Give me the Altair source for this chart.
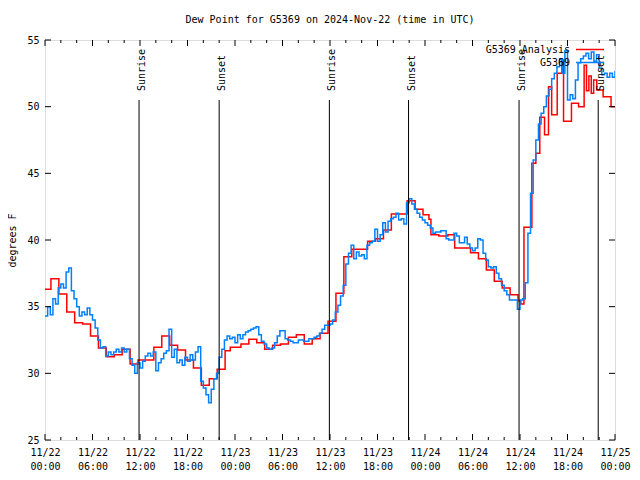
import altair as alt
import pandas as pd

TITLE = "Dew Point for G5369 on 2024-Nov-22 (time in UTC)"
Y_TITLE = "degrees F"
OBS_NAME = "G5369"
ANAL_NAME = "G5369 Analysis"

# Observations (G5369), every 20 minutes from 2024-11-22 00:00 UTC
obs_values = [
    34.3, 35.0, 34.4,  35.6, 35.2, 36.4,  36.7, 36.4, 37.6,  37.9, 36.2, 35.6,
    35.0, 34.3, 34.6,  34.4, 34.9, 34.4,  34.0, 33.4, 32.5,  31.9, 32.0, 31.3,
    31.6, 31.4, 31.6,  31.8, 31.6, 31.9,  31.6, 31.8, 31.1,  30.6, 30.0, 30.8,
    30.4, 30.9, 31.3,  31.5, 31.3, 31.6,  30.2, 30.8, 31.1,  31.5, 31.7, 33.3,
    31.2, 31.8, 30.8,  31.0, 30.6, 31.2,  30.9, 31.4, 31.0,  31.6, 32.0, 29.4,
    28.9, 28.4, 27.8,  28.8, 29.6, 30.0,  31.2, 31.8, 32.5,  32.8, 32.6, 32.7,
    32.3, 32.9, 32.6,  32.9, 33.1, 33.2,  33.3, 33.4, 33.5,  32.9, 32.4, 32.2,
    31.9, 31.8, 31.9,  32.3, 32.8, 33.2,  33.2, 32.6, 32.5,  32.4, 32.3, 32.3,
    32.5, 32.5, 32.4,  32.4, 32.6, 32.6,  32.7, 32.8, 33.0,  33.3, 33.6, 33.6,
    33.7, 34.0, 34.6,  35.1, 35.8, 36.6,  38.2, 39.0, 39.6,  38.6, 39.1, 38.8,
    38.9, 38.6, 39.6,  39.8, 39.9, 40.8,  39.9, 40.4, 41.3,  40.6, 41.4, 41.6,
    41.7, 42.0, 41.5,  41.6, 41.2, 42.8,  43.1, 42.7, 42.3,  42.0, 41.7, 41.5,
    41.3, 41.1, 40.9,  40.5, 40.6, 40.6,  40.7, 40.7, 40.1,  40.0, 40.0, 40.5,
    40.3, 39.8, 39.8,  40.2, 39.7, 39.4,  39.2, 39.4, 40.1,  40.0, 39.0, 38.5,
    38.0, 37.9, 38.0,  37.5, 37.1, 36.6,  36.2, 35.9, 35.5,  35.5, 35.5, 34.8,
    35.5, 35.6, 36.8,  40.5, 43.5, 46.0,  47.5, 48.7, 49.5,  50.0, 50.8, 51.3,
    52.1, 52.5, 53.0,  53.6, 52.5, 54.2,  50.5, 50.9, 50.6,  52.0, 53.3, 53.6,
    53.8, 54.0, 53.6,  54.1, 53.4, 53.9,  52.9, 52.4, 52.5,  52.2, 52.5, 52.2,
    52.7,
]
obs_hours = [i / 3 for i in range(len(obs_values))]

# Analysis (hours since 2024-11-22 00:00 UTC, value)
anal_hours = [
    0, 0.75, 1.75, 2.75, 3.75, 4.75, 5.75, 6.75, 7.75, 8.75, 9.75, 10.75,
    11.75, 13.75, 14.75, 15.75, 16.75, 17.75, 18.75, 19.75, 20.75, 21.75,
    22.75, 23.4, 24.75, 25.75, 26.75, 27.75, 28.75, 29.75, 30.75, 31.75,
    32.75, 33.75, 34.75, 35.75, 36.75, 37.75, 38.75, 40.75, 41.75, 42.75,
    43.75, 45.75, 46.75, 47.75, 48.5, 48.75, 49.75, 50.9, 51.75, 53.75,
    54.75, 55.75, 56.75, 57.75, 58.75, 59.75, 60.1, 60.5, 61.5, 62.0, 62.5,
    63.1, 63.6, 64.0, 64.7, 65.3, 65.5, 66.5, 67.4, 68.1, 68.4, 68.7, 69.0,
    69.3, 69.7, 70.5, 71.5, 72.0,
]
anal_values = [
    36.3, 37.1, 35.95, 34.6, 33.8, 33.7, 32.8, 31.9, 31.25, 31.4, 31.8, 30.7,
    31.0, 31.95, 32.8, 32.1, 31.75, 31.0, 30.4, 29.1, 29.6, 30.3,
    31.7, 31.95, 32.2, 32.55, 32.3, 31.8, 32.1, 32.2, 32.7, 32.9,
    32.2, 32.6, 33.0, 33.9, 36.0, 38.75, 39.3, 39.9, 40.1, 40.75,
    41.95, 42.95, 42.3, 41.9, 41.55, 40.4, 40.3, 40.4, 39.4, 39.05,
    38.6, 37.75, 36.9, 36.4, 35.9, 35.45, 35.2, 40.95, 45.75, 46.5, 49.2,
    47.9, 51.5, 49.4, 52.5, 53.5, 48.9, 50.25, 50.0, 53.1, 51.2, 52.3, 51.0,
    52.0, 51.25, 50.75, 50.0, 50.0,
]

sunrise_hours = [11.88, 35.92, 59.88]
sunset_hours = [22.0, 45.92, 69.88]

x_major = list(range(0, 73, 6))
x_minor = [h for h in range(0, 73, 2) if h % 6 != 0]
y_major = [25, 30, 35, 40, 45, 50, 55]

W, H = 570, 400
FONT = "DejaVu Sans Mono"
RED = "#ff0000"
BLUE = "#0080ff"

obs_df = pd.DataFrame({"hour": obs_hours, "value": obs_values})
anal_df = pd.DataFrame({"hour": anal_hours, "value": anal_values})
sun_df = pd.DataFrame({
    "hour": sunrise_hours + sunset_hours,
    "label": ["Sunrise"] * len(sunrise_hours) + ["Sunset"] * len(sunset_hours),
})
xmaj_df = pd.DataFrame({"hour": x_major})
xmin_df = pd.DataFrame({"hour": x_minor})
ymaj_df = pd.DataFrame({"value": y_major})

xscale = alt.Scale(domain=[0, 72], nice=False, zero=False)
yscale = alt.Scale(domain=[25, 55], nice=False, zero=False)

label_expr = ("['11/' + (22 + floor(datum.value / 24)), "
              "(datum.value % 24 < 10 ? '0' : '') + (datum.value % 24) + ':00']")

x_axis = alt.Axis(values=x_major, labelExpr=label_expr, ticks=False, domain=False,
                  grid=False, title=None, labelFont=FONT, labelFontSize=10,
                  labelColor="black", labelLineHeight=14, labelPadding=7,
                  labelOverlap=False, labelFlush=False)
y_axis = alt.Axis(values=y_major, ticks=False, domain=False, grid=False,
                  title=Y_TITLE, titleFont=FONT, titleFontSize=10,
                  titleFontWeight="normal", titleColor="black", titlePadding=9,
                  labelFont=FONT, labelFontSize=10, labelColor="black",
                  labelPadding=6)

anal = alt.Chart(anal_df).mark_line(
    interpolate="step-after", color=RED, strokeWidth=1.5, clip=True
).encode(
    x=alt.X("hour:Q", scale=xscale, axis=x_axis),
    y=alt.Y("value:Q", scale=yscale, axis=y_axis),
)

obs = alt.Chart(obs_df).mark_line(
    interpolate="step-after", color=BLUE, strokeWidth=1.5, clip=True
).encode(
    x=alt.X("hour:Q", scale=xscale),
    y=alt.Y("value:Q", scale=yscale),
)

sun_rules = alt.Chart(sun_df).mark_rule(color="black", strokeWidth=1).encode(
    x=alt.X("hour:Q", scale=xscale),
    y=alt.value(60),
    y2=alt.value(H),
)

sun_text = alt.Chart(sun_df).mark_text(
    angle=270, align="left", baseline="alphabetic", dy=6,
    font=FONT, fontSize=10, color="black"
).encode(
    x=alt.X("hour:Q", scale=xscale),
    y=alt.value(51),
    text="label:N",
)

xmaj_bot = alt.Chart(xmaj_df).mark_rule(color="black").encode(
    x=alt.X("hour:Q", scale=xscale), y=alt.value(H), y2=alt.value(H - 6))
xmaj_top = alt.Chart(xmaj_df).mark_rule(color="black").encode(
    x=alt.X("hour:Q", scale=xscale), y=alt.value(0), y2=alt.value(6))
xmin_bot = alt.Chart(xmin_df).mark_rule(color="black").encode(
    x=alt.X("hour:Q", scale=xscale), y=alt.value(H), y2=alt.value(H - 3))
xmin_top = alt.Chart(xmin_df).mark_rule(color="black").encode(
    x=alt.X("hour:Q", scale=xscale), y=alt.value(0), y2=alt.value(3))
y_left = alt.Chart(ymaj_df).mark_rule(color="black").encode(
    y=alt.Y("value:Q", scale=yscale), x=alt.value(0), x2=alt.value(6))
y_right = alt.Chart(ymaj_df).mark_rule(color="black").encode(
    y=alt.Y("value:Q", scale=yscale), x=alt.value(W), x2=alt.value(W - 6))

leg_text = alt.Chart(pd.DataFrame({"name": [ANAL_NAME]})).mark_text(
    align="right", baseline="middle", font=FONT, fontSize=10, color="black"
).encode(x=alt.value(W - 45), y=alt.value(10), text="name:N")
leg_text2 = alt.Chart(pd.DataFrame({"name": [OBS_NAME]})).mark_text(
    align="right", baseline="middle", font=FONT, fontSize=10, color="black"
).encode(x=alt.value(W - 45), y=alt.value(23), text="name:N")
leg_red = alt.Chart(pd.DataFrame({"name": [ANAL_NAME]})).mark_rule(
    color=RED, strokeWidth=1.5
).encode(x=alt.value(W - 39), x2=alt.value(W - 11), y=alt.value(9.5))
leg_blue = alt.Chart(pd.DataFrame({"name": [OBS_NAME]})).mark_rule(
    color=BLUE, strokeWidth=1.5
).encode(x=alt.value(W - 39), x2=alt.value(W - 11), y=alt.value(22.5))

chart = alt.layer(
    anal, obs, sun_rules, sun_text,
    xmaj_bot, xmaj_top, xmin_bot, xmin_top, y_left, y_right,
    leg_text, leg_text2, leg_red, leg_blue,
).properties(
    width=W, height=H,
    title=alt.TitleParams(TITLE, font=FONT, fontSize=10, fontWeight="normal",
                          color="black", anchor="middle", offset=10),
    autosize=alt.AutoSizeParams(type="none"),
    padding={"left": 37, "top": 32, "right": 17, "bottom": 32},
).configure_view(
    stroke="black", strokeWidth=1
).configure(background="white")

chart.save("out.html", embed_options={"renderer": "svg", "actions": False})
